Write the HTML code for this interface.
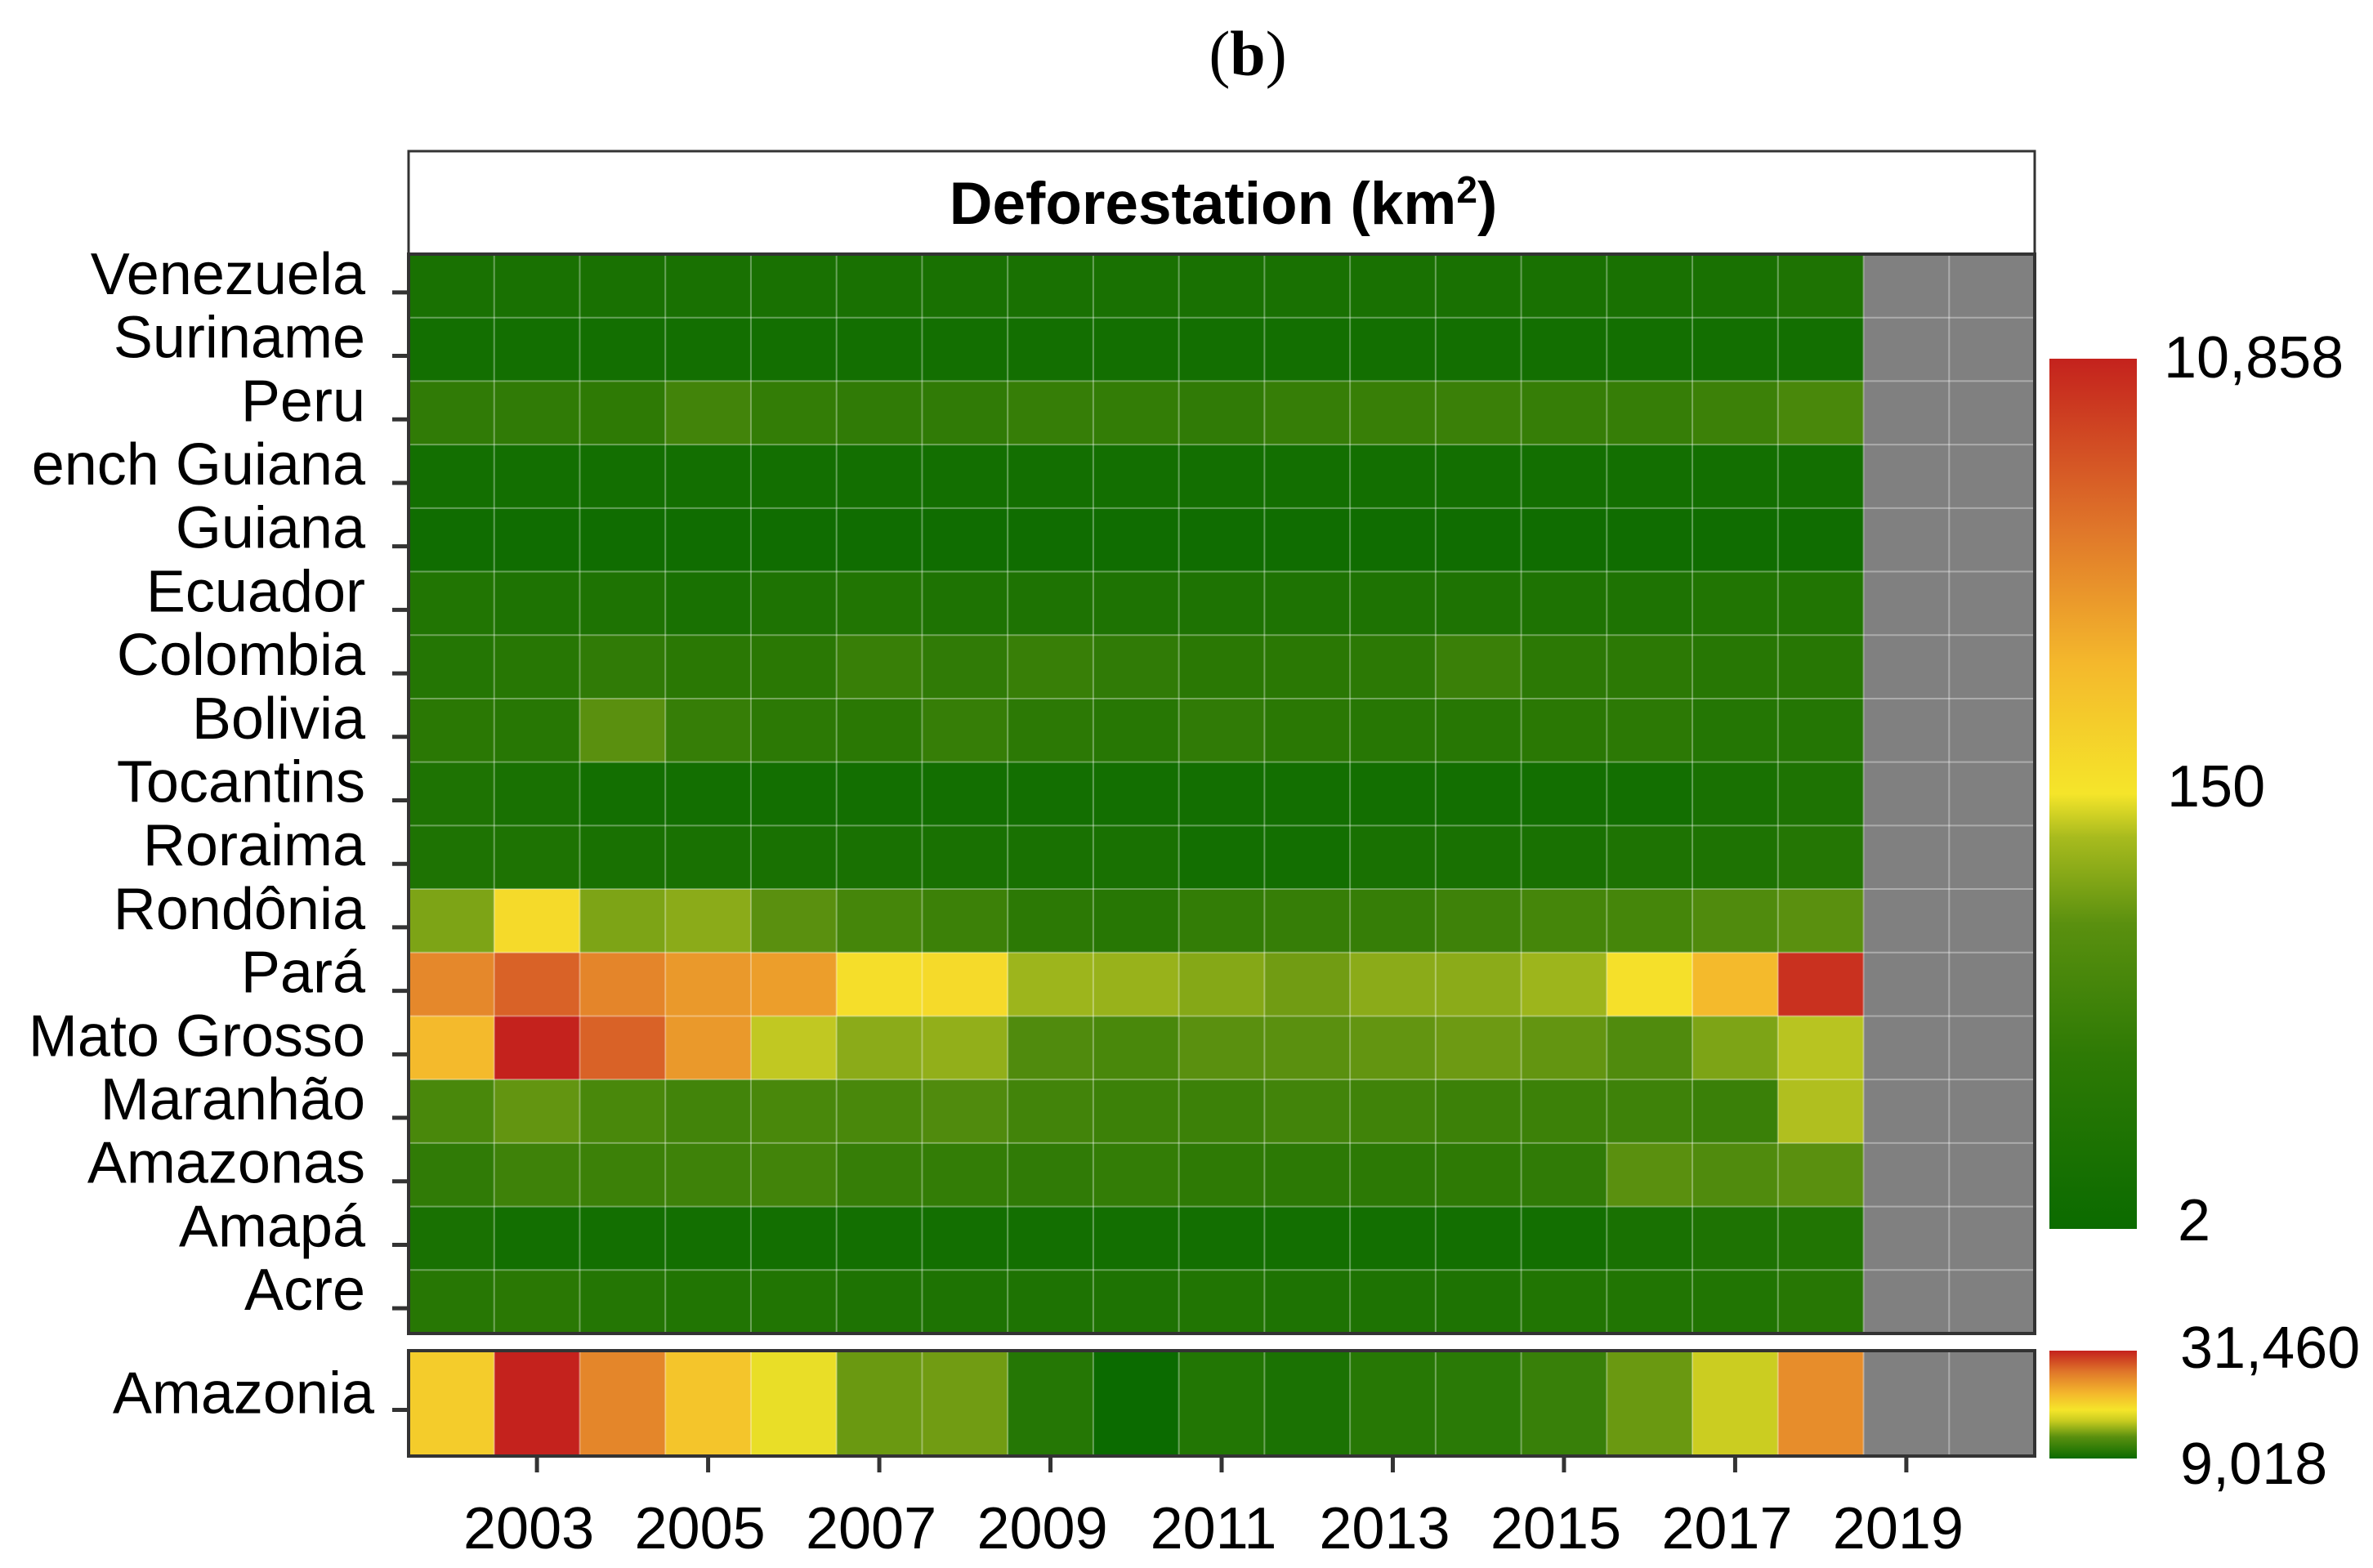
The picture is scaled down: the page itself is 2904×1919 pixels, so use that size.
<!DOCTYPE html>
<html><head><meta charset="utf-8"><style>
html,body{margin:0;padding:0;background:#fff}
svg{display:block}
text{font-family:"Liberation Sans",Arial,sans-serif;fill:#000}
</style></head><body>
<svg id="chart" width="2904" height="1919" viewBox="0 0 2904 1919" xmlns="http://www.w3.org/2000/svg">
<defs>
<linearGradient id="g1" x1="0" y1="1" x2="0" y2="0">
<stop offset="0" stop-color="#0b6b00"/><stop offset="0.2" stop-color="#2e7a05"/><stop offset="0.35" stop-color="#5a900f"/><stop offset="0.45" stop-color="#a8bb1e"/><stop offset="0.5" stop-color="#f5e52a"/><stop offset="0.65" stop-color="#f4b82c"/><stop offset="0.8" stop-color="#e0782a"/><stop offset="1" stop-color="#c4221d"/>
</linearGradient>
<linearGradient id="g2" x1="0" y1="1" x2="0" y2="0">
<stop offset="0" stop-color="#0b6b00"/><stop offset="0.2" stop-color="#5a900f"/><stop offset="0.35" stop-color="#c8cc20"/><stop offset="0.45" stop-color="#f5e52a"/><stop offset="0.6" stop-color="#f4b82c"/><stop offset="0.8" stop-color="#e0782a"/><stop offset="1" stop-color="#c4221d"/>
</linearGradient>
</defs>
<text x="1527" y="92" text-anchor="middle" style="font-family:'Liberation Serif',serif;font-size:78px">(<tspan font-weight="bold">b</tspan>)</text>
<rect x="500" y="185" width="1990" height="126" fill="#fff" stroke="#333" stroke-width="3"/>
<text x="1497" y="274" text-anchor="middle" font-weight="bold" font-size="73">Deforestation (km<tspan font-size="46" dy="-26">2</tspan><tspan dy="26">)</tspan></text>
<g id="cells"></g>
<rect x="2508" y="439" width="107" height="1065" fill="url(#g1)"/>
<rect x="2508" y="1653" width="107" height="132" fill="url(#g2)"/>
<g font-size="72">
<text x="2648" y="462">10,858</text>
<text x="2652" y="987">150</text>
<text x="2665" y="1518">2</text>
<text x="2668" y="1674">31,460</text>
<text x="2668" y="1816">9,018</text>
</g>
</svg>
<script>
const years=[2002,2003,2004,2005,2006,2007,2008,2009,2010,2011,2012,2013,2014,2015,2016,2017,2018,2019,2020];
const regions=["Venezuela","Suriname","Peru","ench Guiana","Guiana","Ecuador","Colombia","Bolivia","Tocantins","Roraima","Rondônia","Pará","Mato Grosso","Maranhão","Amazonas","Amapá","Acre"];
const venezuela=[4,4,4,4,4,4,4,4,4,4,4,4,4,4,4,4,5];
const suriname=[3,3,3,3,3,3,3,3,3,3,3,3,3,3,3,3,3];
const peru=[12,12,11,20,13,12,12,14,13,12,14,15,16,14,14,17,25];
const frenchGuiana=[3,3,3,3,3,3,3,3,3,3,3,3,3,3,3,3,3];
const guiana=[2.6,2.6,2.6,2.6,2.6,2.6,2.6,2.6,2.6,2.6,2.6,2.6,2.6,2.6,2.6,2.6,2.6];
const ecuador=[6,5,5,4,5,6,5,5,5,5,5,5,5,5,5,6,6];
const colombia=[7,8,12,9,9,15,12,15,12,9,9,10,16,10,10,8,8];
const bolivia=[9,8,40,14,10,9,14,10,8,12,9,8,8,9,10,7,7];
const tocantins=[5,4,3,3,3,3,3,3,3,3,3,3,3,3,3,4,5];
const roraima=[5,5,4,4,4,4,4,4,4,3,3,4,4,4,5,5,7];
const rondonia=[60,200,60,70,40,22,17,10,8,13,14,14,18,22,22,30,40];
const para=[1400,3000,1500,1000,900,180,200,85,80,65,52,70,70,85,170,500,8000];
const matoGrosso=[500,10858,3000,1000,110,70,75,30,25,40,40,45,50,45,30,60,105];
const maranhao=[25,45,25,20,25,25,30,20,17,17,20,19,17,17,18,16,100];
const amazonas=[12,18,17,18,20,14,13,12,13,11,10,10,11,12,40,30,40];
const amapa=[4,3,3,3,3,3,3,3,3,3,3,3,3,3,4,5,6];
const acre=[8,9,7,6,6,5,5,5,5,6,5,5,5,6,6,6,8];
const amazonia=[21000,31460,26000,21500,18500,14000,14200,10500,9018,10300,9900,10600,10800,11600,14000,17000,25500];
const legendMin=2, legendMax=10858, amzMin=9018, amzMax=31460;

const rows=[venezuela,suriname,peru,frenchGuiana,guiana,ecuador,colombia,bolivia,tocantins,roraima,rondonia,para,matoGrosso,maranhao,amazonas,amapa,acre];
const NS='http://www.w3.org/2000/svg';
const X0=500,X1=2490,Y0=311,Y1=1632,AY0=1653,AY1=1782;
const cw=(X1-X0)/years.length, rh=(Y1-Y0)/regions.length;
const xPos=i=>X0+i*cw, yPos=j=>Y0+j*rh;
const s1=[[0,[11,107,0]],[0.2,[46,122,5]],[0.35,[90,144,15]],[0.45,[168,187,30]],[0.5,[245,229,42]],[0.65,[244,184,44]],[0.8,[224,120,42]],[1,[196,34,29]]];
const s2=[[0,[11,107,0]],[0.2,[90,144,15]],[0.35,[200,204,32]],[0.45,[245,229,42]],[0.6,[244,184,44]],[0.8,[224,120,42]],[1,[196,34,29]]];
function interp(st,t){t=Math.max(0,Math.min(1,t));for(let k=1;k<st.length;k++){if(t<=st[k][0]){const a=st[k-1],b=st[k],f=(t-a[0])/(b[0]-a[0]);return 'rgb('+a[1].map((c,i)=>Math.round(c+(b[1][i]-c)*f)).join(',')+')';}}return 'rgb('+st[st.length-1][1].join(',')+')';}
const col1=v=>interp(s1,Math.log(v/legendMin)/Math.log(legendMax/legendMin));
const col2=v=>interp(s2,(v-amzMin)/(amzMax-amzMin));
const svg=document.getElementById('chart');
const g=document.getElementById('cells');
function mk(tag,attrs,parent){const e=document.createElementNS(NS,tag);for(const k in attrs)e.setAttribute(k,attrs[k]);(parent||g).appendChild(e);return e;}
rows.forEach((row,j)=>{
  years.forEach((yr,i)=>{
    const v=row[i];
    const r=mk('rect',{x:xPos(i),y:yPos(j),width:cw+0.5,height:rh+0.5,fill:v===undefined?'#808080':col1(v)});
    
    
  });
  const t=mk('text',{x:447,y:yPos(j)+rh/2+10,'text-anchor':'end','font-size':'72'},svg);
  t.textContent=regions[j];
  
  
  const tk=mk('line',{x1:480,x2:499,y1:yPos(j)+rh/2+8,y2:yPos(j)+rh/2+8,stroke:'#333','stroke-width':5},svg);
  
  
});
years.forEach((yr,i)=>{
  const v=amazonia[i];
  const r=mk('rect',{x:xPos(i),y:AY0,width:cw+0.5,height:AY1-AY0,fill:v===undefined?'#808080':col2(v)});
  
  
});
for(let i=1;i<years.length;i++){
  const l=mk('line',{x1:xPos(i),x2:xPos(i),y1:Y0,y2:Y1,stroke:'rgba(255,255,255,0.35)','stroke-width':2});
  
  
  const l2=mk('line',{x1:xPos(i),x2:xPos(i),y1:AY0,y2:AY1,stroke:'rgba(255,255,255,0.35)','stroke-width':2});
  
  
}
for(let j=1;j<regions.length;j++){
  const l=mk('line',{x1:X0,x2:X1,y1:yPos(j),y2:yPos(j),stroke:'rgba(255,255,255,0.35)','stroke-width':2});
  
  
}
const b1=mk('rect',{x:X0,y:Y0,width:X1-X0,height:Y1-Y0,fill:'none',stroke:'#333','stroke-width':4});


const b2=mk('rect',{x:X0,y:AY0,width:X1-X0,height:AY1-AY0,fill:'none',stroke:'#333','stroke-width':4});


const at=mk('text',{x:458,y:(AY0+AY1)/2+12,'text-anchor':'end','font-size':'72'},svg);
at.textContent='Amazonia';


const atk=mk('line',{x1:480,x2:499,y1:(AY0+AY1)/2+8,y2:(AY0+AY1)/2+8,stroke:'#333','stroke-width':5},svg);


years.forEach((yr,i)=>{
  if(yr%2===0)return;
  const cx=xPos(i)+cw/2;
  const tk=mk('line',{x1:cx,x2:cx,y1:AY1+2,y2:AY1+20,stroke:'#333','stroke-width':5},svg);
  
  
  const t=mk('text',{x:cx-10,y:1895,'text-anchor':'middle','font-size':'72'},svg);
  t.textContent=yr;
  
  
});
</script>
</body></html>
